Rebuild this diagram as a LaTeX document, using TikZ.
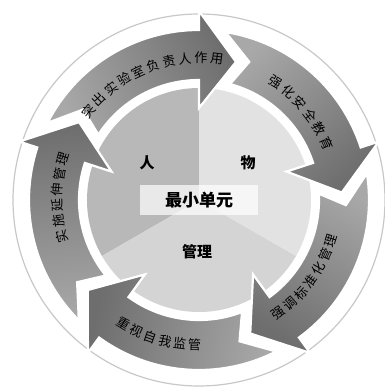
\documentclass[tikz,border=0pt]{standalone}
\usepackage{fontspec}
\newfontfamily\cjk{Noto Sans CJK SC}
\definecolor{renc}{RGB}{184,184,184}
\definecolor{wuc}{RGB}{226,226,226}
\definecolor{glc}{RGB}{212,212,212}
\definecolor{arrtail}{RGB}{168,168,168}
\definecolor{arrhead}{RGB}{110,110,110}
\definecolor{ringc}{RGB}{200,200,200}
\begin{document}
\begin{tikzpicture}[x=1pt,y=1pt,
  arr/.style={draw=white, line width=2.2pt, line join=miter},
  chr/.style={font=\cjk\fontsize{13pt}{13pt}\selectfont, inner sep=0pt},
  lbl/.style={font=\cjk\bfseries\fontsize{15pt}{15pt}\selectfont, inner sep=0pt},
  core/.style={fill=white, fill opacity=0.7, text opacity=1, minimum width=118pt, minimum height=30pt, inner sep=0pt, font=\cjk\bfseries\fontsize{17pt}{17pt}\selectfont}]
\useasboundingbox (-199,-188) rectangle (186,200);
\fill[white] (-199,-188) rectangle (186,200);
\draw[ringc, line width=1.2pt] (0,0) circle[radius=186pt];
% pie
\fill[renc] (0,0) -- (90:112pt) arc[start angle=90, end angle=210, radius=112pt] -- cycle;
\fill[glc] (0,0) -- (210:112pt) arc[start angle=210, end angle=330, radius=112pt] -- cycle;
\fill[wuc] (0,0) -- (-30:112pt) arc[start angle=-30, end angle=90, radius=112pt] -- cycle;
% arrows
\foreach \hb/\tca/\tr/\ts/\dir/\nn/\txt in {
 90/112/142pt/6.5/1/10/{突,出,实,验,室,负,责,人,作,用},
 18/40.5/140pt/6.6/1/6/{强,化,安,全,教,育},
 -54/-36/138pt/6.3/-1/7/{强,调,标,准,化,管,理},
 -126/-106.5/145pt/5.9/-1/6/{重,视,自,我,监,管},
 162/179/142pt/6.4/1/6/{实,施,延,伸,管,理}}
{
 \pgfmathsetmacro\aout{\hb+63}
 \pgfmathsetmacro\ain{\hb+57}
 \pgfmathsetmacro\anotch{\hb+52}
 \pgfmathsetmacro\atip{\hb-15}
 \pgfmathsetmacro\sang{\hb+24}
 \draw[arr, top color=arrtail, bottom color=arrhead, shading angle=\sang]
   (\aout:170pt) arc[start angle=\aout, end angle=\hb, radius=170pt]
   -- (\hb:189pt) -- (\atip:143pt) -- (\hb:92pt) -- (\hb:120pt)
   arc[start angle=\hb, end angle=\ain, radius=120pt]
   -- (\anotch:147pt) -- cycle;
 \foreach \cc [count=\k] in \txt {
   \pgfmathsetmacro\ang{\tca+\dir*((\nn-1)/2-(\k-1))*\ts}
   \pgfmathsetmacro\rot{\ang-90*\dir}
   \node[chr, rotate=\rot] (ch\k) at (\ang:\tr) {\cc};
 }
}
% labels
\node[lbl] (ren) at (-52,37) {人};
\node[lbl] (wu) at (49,37) {物};
\node[lbl] (gl) at (-2,-52) {管理};
\node[core] (center) at (0,0) {最小单元};
\end{tikzpicture}
\end{document}
